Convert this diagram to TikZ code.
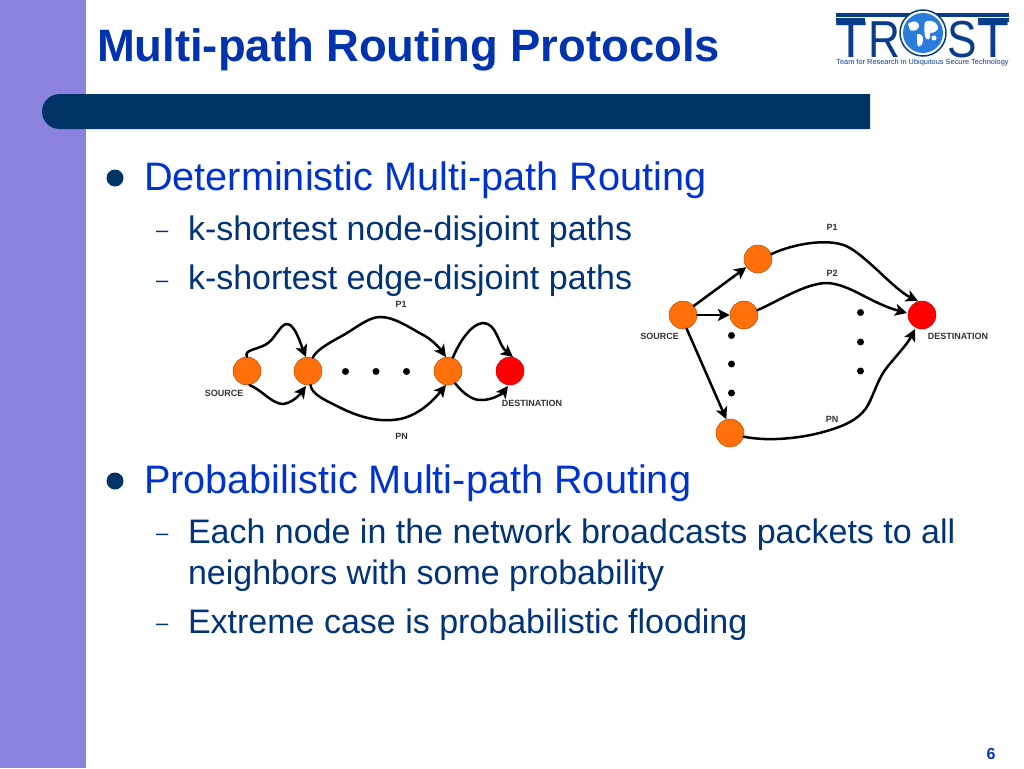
\documentclass[tikz,border=0pt]{standalone}
\usepackage{fontspec}
\setmainfont{Liberation Sans}
\usetikzlibrary{arrows.meta}
\definecolor{band}{RGB}{138,131,222}
\definecolor{navy}{RGB}{0,51,102}
\definecolor{headblue}{RGB}{0,51,204}
\definecolor{titleblue}{RGB}{0,51,173}
\definecolor{subblue}{RGB}{0,51,120}
\definecolor{orangenode}{RGB}{255,112,10}
\definecolor{logoblue}{RGB}{10,60,140}
\definecolor{globeblue}{RGB}{40,125,220}
\tikzset{
  txt/.style={anchor=base west,inner sep=0pt,outer sep=0pt},
  titletxt/.style={txt,text=titleblue,font=\fontsize{45.4}{50}\selectfont\bfseries},
  headtxt/.style={txt,text=headblue,font=\fontsize{39.7}{44}\selectfont},
  subtxt/.style={txt,text=subblue,font=\fontsize{34}{38}\selectfont},
  dashtxt/.style={txt,text=subblue,font=\fontsize{22}{24}\selectfont},
  bulletdot/.style={circle,fill=navy,inner sep=0pt,minimum size=17pt},
  gnode/.style={circle,draw=orangenode!70!black,line width=.5pt,fill=orangenode,inner sep=0pt,minimum size=28pt},
  dnode/.style={gnode,fill=red,draw=red!80!black},
  smalldot/.style={circle,fill=black,inner sep=0pt,minimum size=7pt},
  lab/.style={inner sep=0pt,text=black!80,font=\fontsize{9}{10}\selectfont\bfseries},
  arr/.style={draw=black,line width=2.5pt,line cap=round,-{Stealth[length=12pt,width=12pt,inset=3pt]}},
  logoletter/.style={inner sep=0pt,text=logoblue,anchor=base,font=\fontsize{52}{52}\selectfont},
}
\begin{document}
\begin{tikzpicture}[x=1pt,y=-1pt]
\useasboundingbox (0,0) rectangle (1024,768);
\fill[white] (0,0) rectangle (1024,768);
\fill[band] (0,0) rectangle (85.5,768);
\fill[navy] (870,94) -- (59.5,94) arc[start angle=-90,end angle=-270,radius=17.5] -- (870,129) -- cycle;

\node[titletxt] (title) at (97,62) {Multi-path Routing Protocols};

% logo
\node[logoletter] (logoT) at (851,57) {T};
\node[logoletter,xscale=.85] (logoR) at (884,57) {R};
\node[logoletter,xscale=.85] (logoS) at (962.5,57) {S};
\node[logoletter] (logoTb) at (993,57) {T};
\fill[logoblue] (836,13) rectangle (1009,17);
\fill[logoblue] (836,18) rectangle (865,22);
\fill[logoblue] (978,18) rectangle (1009,22);
\draw[logoblue,line width=1.5pt,fill=white] (923,33) circle (23);
\fill[globeblue] (923,33) circle (20);
\fill[white] (908,24) .. controls (914,19) and (920,22) .. (919,27) .. controls (916,32) and (912,31) .. (910,30) -- cycle;
\fill[white] (917,34) .. controls (922,33) and (925,38) .. (922,44) .. controls (919,49) and (917,46) .. (917,42) -- cycle;
\fill[white] (925,22) .. controls (932,18) and (939,24) .. (938,29) .. controls (934,34) and (932,32) .. (930,33) .. controls (931,40) and (927,42) .. (925,36) .. controls (924,30) and (924,27) .. (925,22) -- cycle;
\fill[white] (934,38) circle (2.5);
\node[inner sep=0pt,text=logoblue,font=\fontsize{7.4}{8}\selectfont] (tag) at (922.5,62.5) {Team for Research in Ubiquitous Secure Technology};

% bullets
\node[bulletdot] (b1) at (115,178) {};
\node[headtxt] (h1) at (144,190) {Deterministic Multi-path Routing};
\node[dashtxt] (d1) at (156,237) {–};
\node[subtxt] (s1) at (188,240) {k-shortest node-disjoint paths};
\node[dashtxt] (d2) at (156,287) {–};
\node[subtxt] (s2) at (188,289) {k-shortest edge-disjoint paths};
\node[bulletdot] (b2) at (115,481) {};
\node[headtxt] (h2) at (144,493) {Probabilistic Multi-path Routing};
\node[dashtxt] (d3) at (156,540) {–};
\node[subtxt] (s3) at (188,543) {Each node in the network broadcasts packets to all};
\node[subtxt] (s4) at (188,584) {neighbors with some probability};
\node[dashtxt] (d4) at (156,630) {–};
\node[subtxt] (s5) at (188,633) {Extreme case is probabilistic flooding};
\node[inner sep=0pt,text=headblue,font=\fontsize{16}{18}\selectfont\bfseries] (pg) at (991,754) {6};

% left graph
\node[gnode] (a1) at (247,371) {};
\node[gnode] (a2) at (308,371) {};
\node[gnode] (a3) at (448,371) {};
\node[dnode] (a4) at (510,371) {};
\node[smalldot] (ad1) at (345.5,371.5) {};
\node[smalldot] (ad2) at (376,371.5) {};
\node[smalldot] (ad3) at (406.5,371.5) {};
\node[lab] (al1) at (224,393.5) {SOURCE};
\node[lab] (al2) at (532,403) {DESTINATION};
\node[lab] (al3) at (401,304.5) {P1};
\node[lab] (al4) at (401.5,436) {PN};
\draw[arr] (a1.90) .. controls (244,350) and (255,350) .. (265,345) .. controls (275,340) and (280,324) .. (287,324) .. controls (295,324) and (301,345) .. (306,357);
\draw[arr] (a1.-80) .. controls (262,390) and (272,404) .. (283,404) .. controls (291,403) and (298,397) .. (306,386);
\draw[arr] (a2.70) .. controls (315,352) and (325,345) .. (340,337) .. controls (355,329) and (368,317) .. (380,317) .. controls (395,317) and (410,328) .. (425,336) .. controls (435,342) and (441,350) .. (446,357);
\draw[arr] (a2.-80) .. controls (312,395) and (325,400) .. (345,410) .. controls (365,419) and (380,421) .. (392,420) .. controls (415,419) and (432,402) .. (446,385);
\draw[arr] (a3.70) .. controls (458,345) and (470,324) .. (483,323) .. controls (497,323) and (498,345) .. (513,357);
\draw[arr] (a3.-60) .. controls (462,392) and (472,401) .. (482,400) .. controls (492,400) and (502,394) .. (508,386);

% right graph
\node[gnode] (b0) at (683,315) {};
\node[gnode] (bp1) at (758,259) {};
\node[gnode] (bp2) at (744,315) {};
\node[gnode] (bpn) at (730,433) {};
\node[dnode] (bd) at (922,315) {};
\node[smalldot] (bdl1) at (731.5,335.5) {};
\node[smalldot] (bdl2) at (731.5,364) {};
\node[smalldot] (bdl3) at (731.5,393) {};
\node[smalldot] (bdr1) at (860.5,312.5) {};
\node[smalldot] (bdr2) at (860.5,342) {};
\node[smalldot] (bdr3) at (860.5,371) {};
\node[lab] (bl1) at (659.5,336.5) {SOURCE};
\node[lab] (bl2) at (958,336) {DESTINATION};
\node[lab] (bl3) at (832,227.5) {P1};
\node[lab] (bl4) at (832,273) {P2};
\node[lab] (bl5) at (832,419) {PN};
\draw[arr] (b0.40) -- (bp1.-145);
\draw[arr] (b0.0) -- (bp2.180);
\draw[arr] (b0.-75) -- (bpn.105);
\draw[arr] (bp1.20) .. controls (790,245) and (830,236) .. (850,248) .. controls (870,260) and (895,290) .. (918,301);
\draw[arr] (bp2.20) .. controls (775,303) and (805,283) .. (827,283) .. controls (850,284) and (870,303) .. (907,313);
\draw[arr] (bpn.-15) .. controls (770,442) and (805,438) .. (830,430) .. controls (850,424) and (862,416) .. (868,405) .. controls (875,392) and (878,378) .. (888,366) .. controls (898,354) and (908,343) .. (915,329);
\end{tikzpicture}
\end{document}
